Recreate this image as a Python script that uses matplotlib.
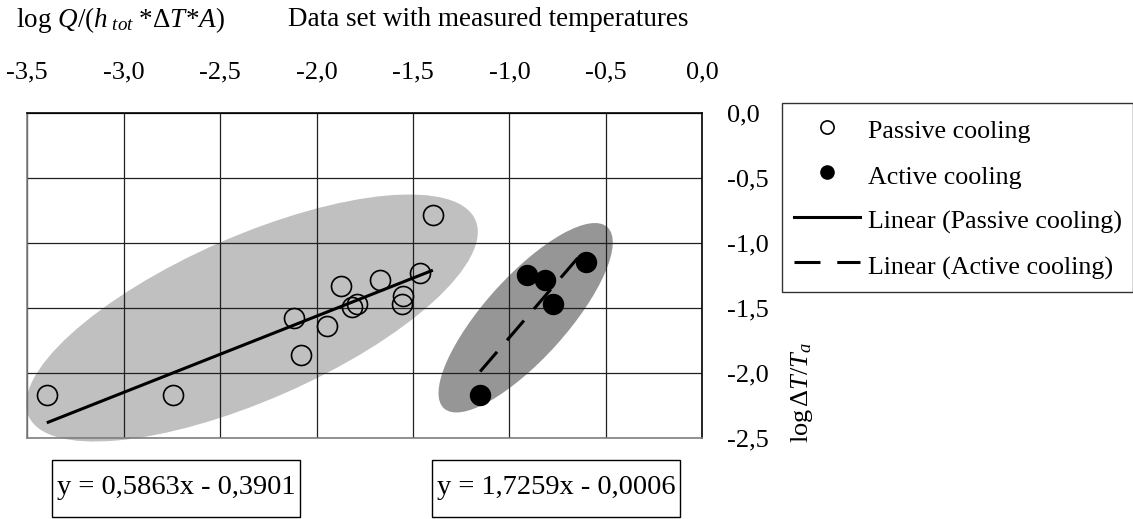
import numpy as np
import matplotlib
matplotlib.use('Agg')
import matplotlib.pyplot as plt
import matplotlib.transforms as mtransforms
from matplotlib.patches import Ellipse, Rectangle
from matplotlib.lines import Line2D

plt.rcParams['font.family'] = 'Liberation Serif'
plt.rcParams['mathtext.fontset'] = 'custom'
plt.rcParams['mathtext.rm'] = 'Liberation Serif'
plt.rcParams['mathtext.it'] = 'Liberation Serif:italic'

# data
passive_x = [-3.399, -2.746, -2.117, -2.082, -1.875, -1.944, -1.817,
             -1.792, -1.671, -1.463, -1.553, -1.558, -1.397]
passive_y = [-2.169, -2.169, -1.579, -1.862, -1.331, -1.638, -1.490,
             -1.469, -1.285, -1.233, -1.408, -1.469, -0.785]
active_x = [-1.152, -0.910, -0.815, -0.772, -0.604]
active_y = [-2.169, -1.246, -1.285, -1.469, -1.148]

# trend lines (slope, intercept)
passive_fit = (0.5863, -0.3901)
active_fit = (1.7259, -0.0006)

x_ticks = [-3.5, -3.0, -2.5, -2.0, -1.5, -1.0, -0.5, 0.0]
y_ticks = [0.0, -0.5, -1.0, -1.5, -2.0, -2.5]

FS = 19


def comma(v, n=1):
    s = '{:.{}f}'.format(v, n).replace('.', ',')
    return '0,0' if s == '-0,0' else s


W, H = 1133, 519
fig = plt.figure(figsize=(W / 100, H / 100), dpi=100)
ax = fig.add_axes([27.3 / W, 1 - 438 / H, 675 / W, 325 / H])

ax.set_xlim(-3.5, 0.0)
ax.set_ylim(-2.5, 0.0)
ax.set_xticks(x_ticks)
ax.set_yticks(y_ticks)
ax.set_xticklabels([comma(v) for v in x_ticks])
ax.set_yticklabels([comma(v) for v in y_ticks])
ax.xaxis.tick_top()
ax.yaxis.tick_right()
ax.tick_params(axis='x', length=0, pad=21, labelsize=FS)
ax.tick_params(axis='y', length=0, pad=18, labelsize=FS)
ax.set_axisbelow(True)
ax.grid(True, color='#202020', lw=0.9)
for side in ['top', 'right']:
    ax.spines[side].set_color('black')
for side in ['left', 'bottom']:
    ax.spines[side].set_color('#808080')
for s in ax.spines.values():
    s.set_linewidth(1.2)

# shaded ellipses, sized in pixels around a centre in data units
def blob(cx, cy, a_px, b_px, ang, color):
    tr = fig.dpi_scale_trans + mtransforms.ScaledTranslation(cx, cy, ax.transData)
    e = Ellipse((0, 0), 2 * a_px / 100, 2 * b_px / 100, angle=ang,
                transform=tr, facecolor=color, edgecolor='none',
                zorder=0.2, clip_on=False)
    ax.add_patch(e)

blob(-2.335, -1.577, 244, 82, 23.7, '#c0c0c0')
blob(-0.916, -1.575, 122, 41, 48.0, '#969696')

# trend lines
px = np.array([min(passive_x), max(passive_x)])
ax.plot(px, passive_fit[0] * px + passive_fit[1], color='black', lw=2.2,
        zorder=3, solid_capstyle='butt')
axx = np.array([min(active_x), max(active_x)])
ax.plot(axx, active_fit[0] * axx + active_fit[1], color='black', lw=2.2,
        dashes=(8.5, 5), zorder=3, dash_capstyle='butt')

ax.plot(passive_x, passive_y, 'o', ms=14.4, mfc='none', mec='black',
        mew=1.2, zorder=4)
ax.plot(active_x, active_y, 'o', ms=14.4, mfc='black', mec='black',
        zorder=4)

handles = [
    Line2D([], [], ls='none', marker='o', ms=9.5, mfc='white', mec='black', mew=1.2),
    Line2D([], [], ls='none', marker='o', ms=9.5, mfc='black', mec='black'),
    Line2D([], [], color='black', lw=2.2),
    Line2D([], [], color='black', lw=2.2, dashes=(8.5, 5.5)),
]
labels = ['Passive cooling', 'Active cooling',
          'Linear (Passive cooling)', 'Linear (Active cooling)']
leg = fig.legend(handles, labels, loc='upper left',
                 bbox_to_anchor=(782 / W, 1 - 103 / H), fontsize=18.7,
                 frameon=True, fancybox=False, edgecolor='black',
                 handlelength=2.55, handleheight=1.4, handletextpad=0.3,
                 labelspacing=0.59, borderpad=0.45, borderaxespad=0)
leg.get_frame().set_linewidth(1.0)

fig.text(16 / W, 1 - 20 / H, r'log $\mathit{Q/(h}_{\mathit{\ tot}}\mathit{\ {*}\Delta T{*}A)}$',
         fontsize=19.5, ha='left', va='center')
fig.text(288 / W, 1 - 20 / H, 'Data set with measured temperatures',
         fontsize=19.5, ha='left', va='center')
fig.text(802 / W, 1 - 392 / H, r'log$\,\mathit{\Delta T/T_a}$', fontsize=FS,
         rotation=90, ha='center', va='center')

# equation boxes under the plot
for (slope, icpt), x0 in [(passive_fit, 52), (active_fit, 432)]:
    fig.patches.append(Rectangle((x0 / W, 1 - 517 / H), 248 / W, 57 / H,
                                 transform=fig.transFigure, facecolor='white',
                                 edgecolor='black', lw=1.0))
    fig.text((x0 + 124) / W, 1 - 488 / H,
             'y = {}x - {}'.format(comma(slope, 4), comma(-icpt, 4)),
             fontsize=20.5, ha='center', va='center')

fig.savefig('out.png', dpi=100)
